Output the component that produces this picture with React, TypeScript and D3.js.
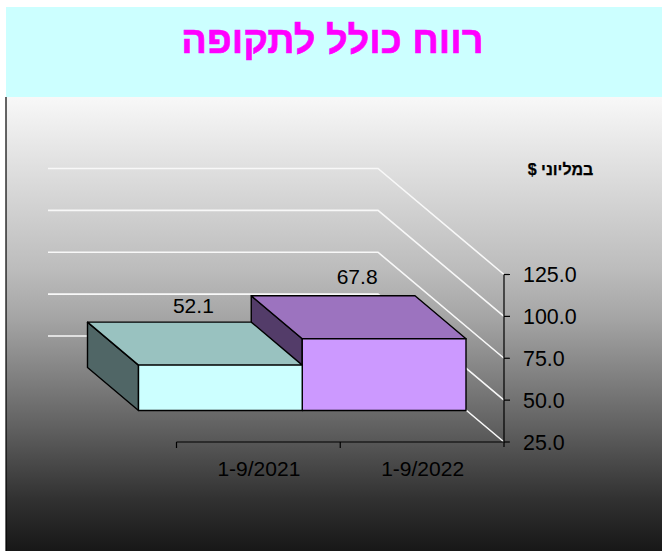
import React from "react";
import * as d3 from "d3";

const titleText = "רווח כולל לתקופה";
const unitText = "במליוני $";
const categories = ["1-9/2021", "1-9/2022"];
const values = [52.1, 67.8];
const valueTicks = [25, 50, 75, 100, 125];
const frontFills = ["#ccffff", "#cc99ff"];
const topFills = ["#99c2c0", "#9c73bf"];
const sideFills = ["#506666", "#533c69"];

const W = 662;
const H = 551;
const FONT = "'Liberation Sans', Arial, sans-serif";

export default function App() {
  const y = d3.scaleLinear().domain([25, 125]).range([442, 274.5]);
  const x = d3.scaleBand<string>().domain(categories).range([176.5, 504]);
  // oblique projection: full floor depth and the bar's front/back offsets from the front plane
  const wall: [number, number] = [-126, -106];
  const barFront: [number, number] = [-38, -31.5];
  const barBack: [number, number] = [-89, -74.5];
  const wallLeft = 48;
  const xFront = x.range()[1];
  const xBack = xFront + wall[0];

  const line = d3.line();
  const poly = (pts: [number, number][]) => line(pts) + "Z";

  const bars = categories.map((c, i) => {
    const x0 = x(c)!;
    const x1 = x0 + x.bandwidth();
    const yTop = y(values[i]);
    const yBase = y(25);
    const p = (px: number, py: number, o: [number, number]): [number, number] => [px + o[0], py + o[1]];
    return {
      i,
      front: poly([p(x0, yTop, barFront), p(x1, yTop, barFront), p(x1, yBase, barFront), p(x0, yBase, barFront)]),
      top: poly([p(x0, yTop, barBack), p(x1, yTop, barBack), p(x1, yTop, barFront), p(x0, yTop, barFront)]),
      side: poly([p(x0, yTop, barBack), p(x0, yTop, barFront), p(x0, yBase, barFront), p(x0, yBase, barBack)]),
      labelX: (x0 + x1) / 2 + barBack[0] + 24,
      labelY: yTop + barBack[1] - 9 - i * 2.5,
    };
  });

  return (
    <svg
      width={W}
      height={H}
      style={{ position: "absolute", left: 0, top: 0, display: "block" }}
      fontFamily={FONT}
    >
      <defs>
        <linearGradient id="bg" x1="0" y1="0" x2="0" y2="1">
          <stop offset="0" stopColor="#f8f8f8" />
          <stop offset="0.38" stopColor="#bcbcbc" />
          <stop offset="0.49" stopColor="#a4a4a4" />
          <stop offset="0.73" stopColor="#606060" />
          <stop offset="0.89" stopColor="#303030" />
          <stop offset="1" stopColor="#171717" />
        </linearGradient>
      </defs>
      <rect x={0} y={0} width={W} height={H} fill="#ffffff" />
      <rect x={6} y={7} width={W - 6} height={90} fill="#ccffff" />
      <rect x={6} y={97} width={W - 6} height={H - 97} fill="url(#bg)" />
      <line x1={6} y1={97} x2={6} y2={H} stroke="#000" strokeWidth={1.2} />

      <text
        x={332.5}
        y={53}
        textAnchor="middle"
        fontSize={38}
        fontWeight="bold"
        fill="#ff00ff"
        stroke="#ff00ff"
        strokeWidth={0.6}
        direction="rtl"
      >
        {titleText}
      </text>

      {valueTicks.map((t) => (
        <path
          key={t}
          d={
            line([
              [wallLeft, y(t) + wall[1]],
              [xBack, y(t) + wall[1]],
              [xFront, y(t)],
            ])!
          }
          fill="none"
          stroke="#f8f8f8"
          strokeWidth={1.6}
        />
      ))}

      {[...bars].reverse().map((b) => (
        <g key={b.i} stroke="#000" strokeWidth={1.4} strokeLinejoin="round">
          <path d={b.side} fill={sideFills[b.i]} />
          <path d={b.top} fill={topFills[b.i]} />
          <path d={b.front} fill={frontFills[b.i]} />
        </g>
      ))}

      {bars.map((b) => (
        <text key={b.i} x={b.labelX} y={b.labelY} fontSize={21} textAnchor="middle" fill="#000">
          {values[b.i].toFixed(1)}
        </text>
      ))}

      {/* value axis */}
      <line x1={xFront} y1={y(125)} x2={xFront} y2={y(25) + 5} stroke="#000" strokeWidth={1.2} />
      {valueTicks.map((t) => (
        <g key={t}>
          <line x1={xFront} x2={xFront + 6} y1={y(t)} y2={y(t)} stroke="#000" strokeWidth={1.2} />
          <text x={523} y={y(t) + 7.8} fontSize={21.4} fill="#000">
            {t.toFixed(1)}
          </text>
        </g>
      ))}

      {/* category axis */}
      <line x1={x.range()[0]} x2={xFront} y1={y(25)} y2={y(25)} stroke="#000" strokeWidth={1.2} />
      {categories.map((c) => (
        <g key={c}>
          <line x1={x(c)!} x2={x(c)!} y1={y(25)} y2={y(25) + 6} stroke="#000" strokeWidth={1.2} />
          <text x={x(c)! + x.bandwidth() / 2 + 0.5} y={y(25) + 33.5} fontSize={21} textAnchor="middle" fill="#000">
            {c}
          </text>
        </g>
      ))}

      <text x={560.5} y={175} textAnchor="middle" fontSize={16} fontWeight="bold" fill="#000" stroke="#000" strokeWidth={0.25} direction="rtl">
        {unitText}
      </text>
    </svg>
  );
}
